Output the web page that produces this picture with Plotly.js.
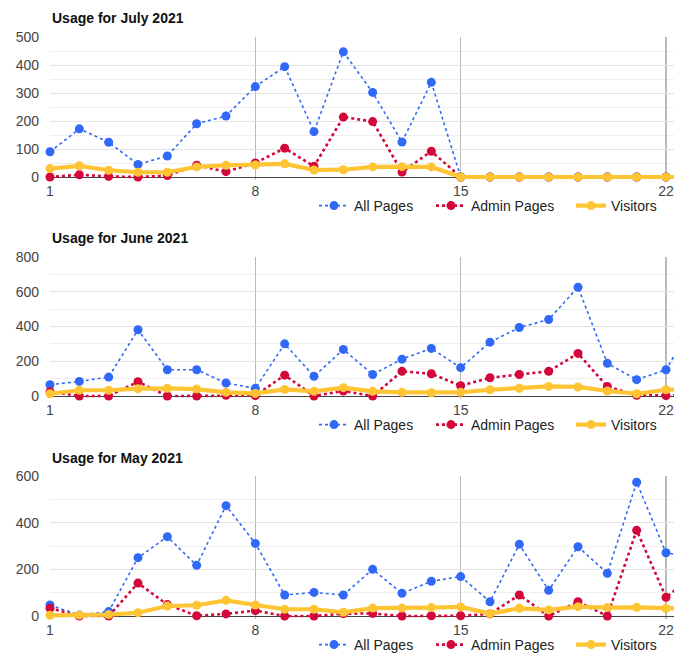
<!DOCTYPE html>
<html><head><meta charset="utf-8">
<script src="https://cdn.plot.ly/plotly-3.0.1.min.js"></script>
<style>html,body{margin:0;padding:0;background:#fff;overflow:hidden}#chart{width:674px;height:653px}</style>
</head><body><div id="chart"></div>
<script>
const days = [1,2,3,4,5,6,7,8,9,10,11,12,13,14,15,16,17,18,19,20,21,22,23];
const xTicks = [1,8,15,22];
const seriesNames = ['All Pages','Admin Pages','Visitors'];
const chartTitles = ['Usage for July 2021','Usage for June 2021','Usage for May 2021'];

const julyAll      = [90,172,124,45,75,190,218,323,394,162,447,302,125,338,0,0,0,0,0,0,0,0,0];
const julyAdmin    = [0,8,2,0,5,42,19,50,103,38,214,198,18,92,0,0,0,0,0,0,0,0,0];
const julyVisitors = [30,40,24,17,17,36,42,43,47,25,26,36,37,36,0,0,0,0,0,0,0,0,0];

const juneAll      = [65,84,109,381,151,151,75,44,300,113,268,124,212,274,163,310,394,440,626,188,94,151,440];
const juneAdmin    = [25,0,0,82,0,0,4,2,120,0,29,0,142,128,59,105,124,142,245,55,4,2,5];
const juneVisitors = [13,33,33,42,44,40,21,15,38,27,48,27,21,19,21,36,44,55,52,29,13,36,40];

const mayAll       = [47,4,19,250,340,217,473,311,90,101,90,200,97,149,169,61,307,110,297,183,573,271,250];
const mayAdmin     = [33,0,0,141,49,1,9,23,0,0,10,11,0,1,1,9,90,0,61,0,367,80,180];
const mayVisitors  = [3,4,6,14,43,46,67,47,29,29,16,34,34,36,39,10,33,26,40,36,37,33,30];

const yMax   = [500, 800, 600];
const yMajor = [100, 200, 200];
const yMinor = [50, 100, 100];

const W = 674, H = 653, L = 50;
const plotTop = [37, 257, 476];
const plotZero = [177, 396, 616];
const pad = 3;
const legendY = [206, 425, 645];
const titleY = [18, 238, 458];
const legendX = [324, 441, 581];

const styles = [
  {color:'#3068f7', width:1.6, dash:'dot', size:9},
  {color:'#d4073b', width:2.6, dash:'dot', size:9},
  {color:'#ffc433', width:4.2, dash:'solid', size:9}
];

const data = [[julyAll,julyAdmin,julyVisitors],[juneAll,juneAdmin,juneVisitors],[mayAll,mayAdmin,mayVisitors]];

const traces = [];
const layout = {
  width: W, height: H,
  margin: {l: L, r: 0, t: 0, b: 0, autoexpand: false},
  paper_bgcolor: '#fff', plot_bgcolor: '#fff',
  font: {family: 'Arial, "Liberation Sans", sans-serif', size: 14, color: '#444'},
  annotations: [],
  hovermode: false
};
const px = v => (v - L) / (W - L);
const py = v => 1 - v / H;

let legendIdx = 0;
for (let s = 0; s < 3; s++) {
  const ax = s === 0 ? '' : String(s + 1);
  const unitPx = (plotZero[s] - plotTop[s]) / yMax[s];
  const yLow = -pad / unitPx;
  layout['xaxis' + ax] = {
    anchor: 'y' + ax, domain: [0, 1],
    range: [1, 1 + (W - L) / ((666 - 50) / 21)],
    tickvals: xTicks, showgrid: true, gridcolor: '#b9b9b9', gridwidth: 1.2,
    zeroline: false, showline: false, ticks: '', ticklabelstandoff: 1,
    tickfont: {size: 14, color: '#444'}, fixedrange: true
  };
  layout['yaxis' + ax] = {
    anchor: 'x' + ax, domain: [py(plotZero[s] + pad), py(plotTop[s])],
    range: [yLow, yMax[s]], dtick: yMajor[s], tick0: 0,
    showgrid: true, gridcolor: '#e2e2e2', gridwidth: 1,
    minor: {dtick: yMinor[s], tick0: 0, showgrid: true, gridcolor: '#efefef', gridwidth: 1},
    zeroline: true, zerolinecolor: '#444', zerolinewidth: 1,
    showline: false, ticks: '', ticklabelstandoff: 10,
    tickfont: {size: 14, color: '#444'}, fixedrange: true
  };
  layout.annotations.push({
    text: '<b>' + chartTitles[s] + '</b>', xref: 'paper', yref: 'paper',
    x: 0, y: py(titleY[s]), xanchor: 'left', yanchor: 'middle', showarrow: false,
    font: {size: 14, color: '#111'}
  });
  for (let k = 0; k < 3; k++) {
    legendIdx++;
    const lid = legendIdx === 1 ? 'legend' : 'legend' + legendIdx;
    const st = styles[k];
    traces.push({
      type: 'scatter', mode: 'lines+markers', name: seriesNames[k],
      x: days, y: data[s][k], xaxis: 'x' + ax, yaxis: 'y' + ax,
      line: {color: st.color, width: st.width, dash: st.dash},
      marker: {color: st.color, size: st.size, line: {width: 0}},
      cliponaxis: false, legend: lid, showlegend: true
    });
    layout[lid] = {
      x: px(legendX[k] - 10), y: py(legendY[s]), xanchor: 'left', yanchor: 'middle',
      xref: 'paper', yref: 'paper',
      bgcolor: 'rgba(0,0,0,0)', borderwidth: 0, orientation: 'h',
      font: {size: 14, color: '#222'}, itemclick: false, itemdoubleclick: false
    };
  }
}

Plotly.newPlot('chart', traces, layout, {displayModeBar: false, staticPlot: true});
</script>
</body></html>
